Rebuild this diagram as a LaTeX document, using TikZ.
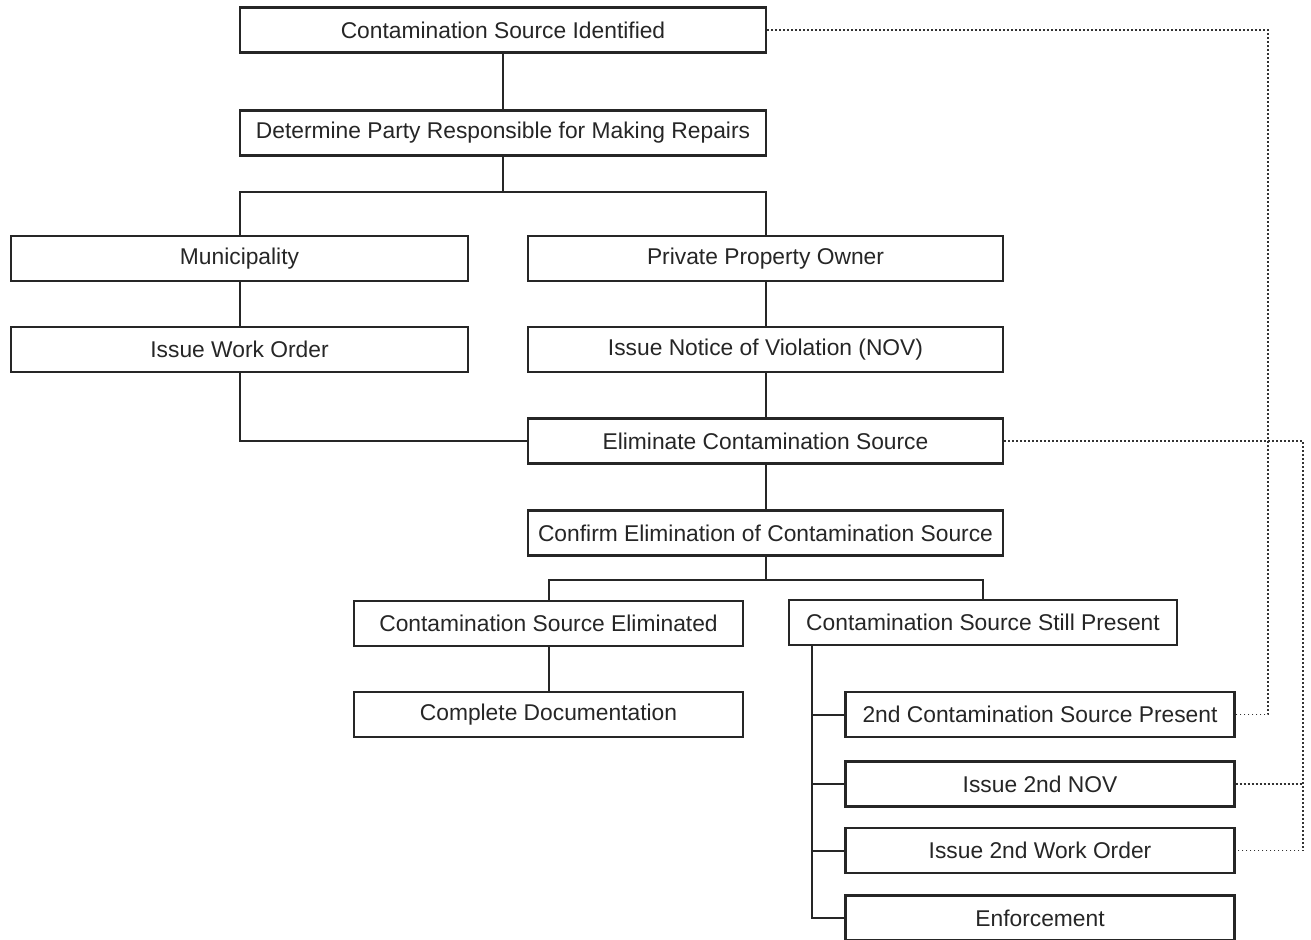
\documentclass[tikz,border=0pt]{standalone}
\usepackage{fontspec}
\setmainfont{Liberation Sans}
\begin{document}
\begin{tikzpicture}[x=0.5pt,y=-0.5pt,
  box/.style={draw=black!85, line width=1.2pt, fill=white, text=black!85, inner sep=0pt,
    font=\fontsize{11.4}{13}\selectfont, minimum height=22.5pt},
  link/.style={draw=black!85, line width=1pt},
  loop/.style={draw=black!80, line width=0.9pt, dash pattern=on 0.9pt off 1.1pt}]
\useasboundingbox (0,0) rectangle (1311,940);
\node [box, minimum width=263pt] (ident) at (503,30) {Contamination Source Identified};
\node [box, minimum width=263pt] (party) at (503,133) {Determine Party Responsible for Making Repairs};
\node [box, minimum width=228.5pt] (muni) at (239.5,258.5) {Municipality};
\node [box, minimum width=237.5pt] (owner) at (765.5,258.5) {Private Property Owner};
\node [box, minimum width=228.5pt] (order) at (239.5,349.5) {Issue Work Order};
\node [box, minimum width=237.5pt] (nov) at (765.5,349.5) {Issue Notice of Violation (NOV)};
\node [box, minimum width=237.5pt] (elim) at (765.5,441) {Eliminate Contamination Source};
\node [box, minimum width=237.5pt] (confirm) at (765.5,533) {Confirm Elimination of Contamination Source};
\node [box, minimum width=194.5pt] (gone) at (548.5,623.5) {Contamination Source Eliminated};
\node [box, minimum width=194pt] (still) at (983,622.5) {Contamination Source Still Present};
\node [box, minimum width=194.5pt] (docs) at (548.5,714.5) {Complete Documentation};
\node [box, minimum width=194.5pt] (second) at (1040,714.5) {2nd Contamination Source Present};
\node [box, minimum width=194.5pt] (nov2) at (1040,784) {Issue 2nd NOV};
\node [box, minimum width=194.5pt] (order2) at (1040,850.5) {Issue 2nd Work Order};
\node [box, minimum width=194.5pt] (enforce) at (1040,918) {Enforcement};

\coordinate (trunk) at (812,645);
\coordinate (rail1) at (1268,30);
\coordinate (rail2) at (1303,441);

% solid links
\draw [link] (ident) -- (party);
\draw [link] (party.south) -- ++(0,35) -| (muni.north);
\draw [link] (party.south) -- ++(0,35) -| (owner.north);
\draw [link] (muni) -- (order);
\draw [link] (owner) -- (nov);
\draw [link] (order.south) |- (elim.west);
\draw [link] (nov) -- (elim);
\draw [link] (elim) -- (confirm);
\draw [link] (confirm.south) -- ++(0,23) -| (gone.north);
\draw [link] (confirm.south) -- ++(0,23) -| (still.north);
\draw [link] (gone) -- (docs);
\draw [link] (trunk) |- (enforce.west);
\draw [link] (second.west) -- (second.west -| trunk);
\draw [link] (nov2.west) -- (nov2.west -| trunk);
\draw [link] (order2.west) -- (order2.west -| trunk);

% dotted loops
\draw [loop] (ident.east) -- (rail1) |- (second.east);
\draw [loop] (elim.east) -- (rail2) |- (order2.east);
\draw [loop] (nov2.east) -- (nov2.east -| rail2);
\end{tikzpicture}
\end{document}
